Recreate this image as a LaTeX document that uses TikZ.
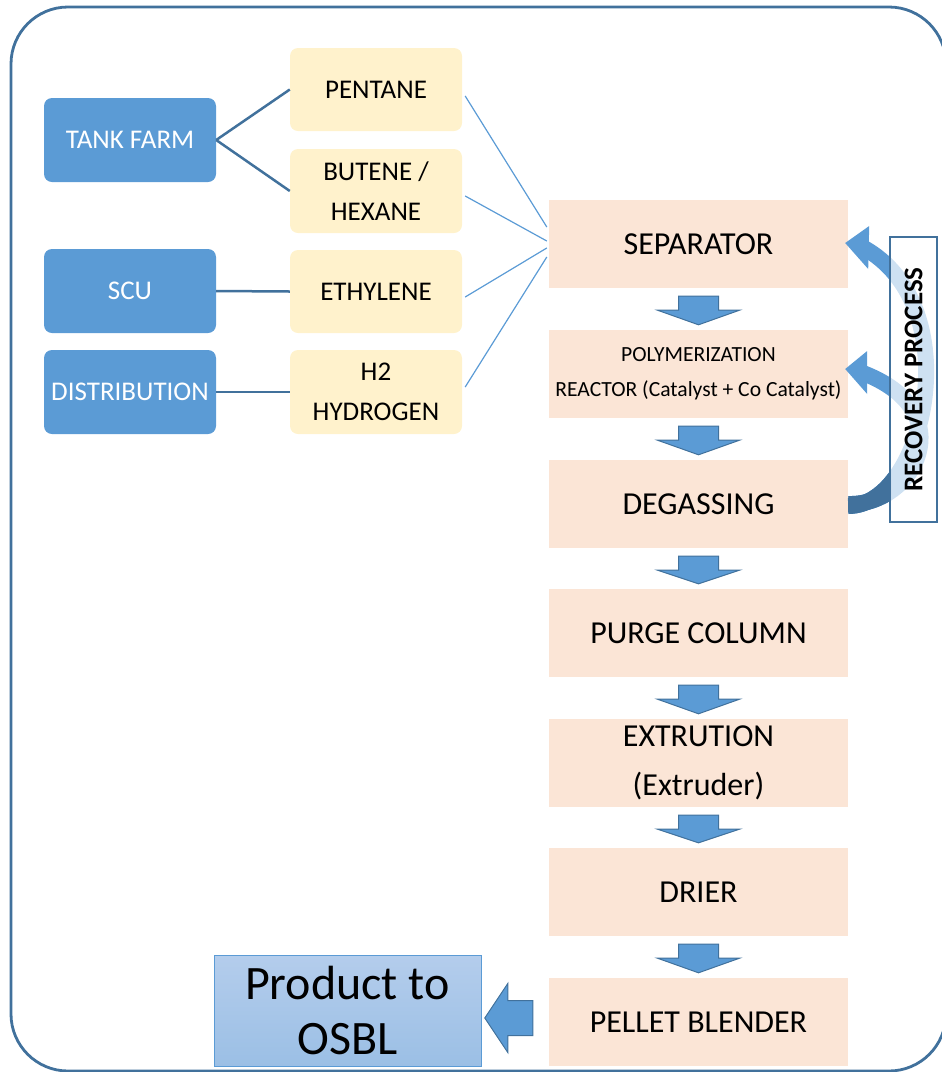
\documentclass[tikz,border=0pt]{standalone}
\usepackage{fontspec}
\setmainfont{Carlito}
\usetikzlibrary{calc}

\definecolor{feedblue}{HTML}{5B9BD5}
\definecolor{edgeblue}{HTML}{41719C}
\definecolor{feedyellow}{HTML}{FFF2CC}
\definecolor{stagepeach}{HTML}{FBE5D6}
\definecolor{prodtop}{HTML}{B4CDEC}
\definecolor{prodbot}{HTML}{9BBFE5}

\tikzset{
  source/.style={fill=feedblue, rounded corners=8pt, minimum width=172pt,
    minimum height=84pt, inner sep=0pt, text=white,
    font=\fontsize{27}{40}\selectfont, align=center},
  feed/.style={fill=feedyellow, rounded corners=8pt, minimum width=172pt,
    minimum height=84pt, inner sep=0pt, font=\fontsize{27}{40}\selectfont,
    align=center},
  stage/.style={fill=stagepeach, minimum width=299pt, minimum height=88pt,
    inner sep=0pt, font=\fontsize{32}{49}\selectfont, align=center},
  supply/.style={draw=edgeblue, line width=2.5pt},
  feedline/.style={draw=feedblue, line width=1.2pt},
  blockarrow/.style={fill=feedblue, draw=edgeblue, line width=1pt, line join=miter},
  loopband/.style={draw=feedblue, line width=16pt},
  loopdark/.style={draw=edgeblue, line width=16pt},
  loophead/.style={fill=feedblue},
}

% downward block arrow between two stacked stages
\newcommand\stagearrow[2]{%
  \draw[blockarrow] ($(#1.south)+(-20,8)$) -- ($(#1.south)+(20,8)$)
    -- ($(#1.south)+(20,22)$) -- ($(#1.south)+(41,22)$)
    -- ($(#2.north)+(0,-5)$) -- ($(#1.south)+(-41,22)$)
    -- ($(#1.south)+(-20,22)$) -- cycle;}

\begin{document}
\begin{tikzpicture}[x=1pt,y=-1pt]
\useasboundingbox (0,0) rectangle (942,1072);

% outer frame
\begin{scope}
  \clip (0,0) rectangle (942,1072);
  \draw[edgeblue, line width=2.8pt, rounded corners=57pt] (11,7) rectangle (946,1071);
\end{scope}

% sources
\node[source] (tank) at (130,140) {TANK FARM};
\node[source] (scu)  at (130,291) {SCU};
\node[source] (dist) at (130,392) {DISTRIBUTION};

% feeds
\node[feed, minimum height=83pt] (pent) at (376,89.5) {PENTANE};
\node[feed] (but)  at (376,191)   {BUTENE /\\HEXANE};
\node[feed, minimum height=83pt] (eth)  at (376,291.5) {ETHYLENE};
\node[feed] (hyd)  at (376,392)   {H2\\HYDROGEN};

% process stages
\node[stage] (sep)   at (698.5,244)  {SEPARATOR};
\node[stage, font=\fontsize{21.6}{35}\selectfont] (poly) at (698.5,374)
  {POLYMERIZATION\\REACTOR (Catalyst + Co Catalyst)};
\node[stage] (deg)   at (698.5,504)  {DEGASSING};
\node[stage] (purge) at (698.5,633)  {PURGE COLUMN};
\node[stage] (extr)  at (698.5,763)  {EXTRUTION\\(Extruder)};
\node[stage] (drier) at (698.5,892)  {DRIER};
\node[stage] (pel)   at (698.5,1022) {PELLET BLENDER};

% product
\node[top color=prodtop, bottom color=prodbot, draw=feedblue, line width=1pt,
  minimum width=267pt, minimum height=111pt, inner sep=0pt, align=center,
  font=\fontsize{48}{55}\selectfont] (prod) at (347.5,1010.5) {Product to\\OSBL};

% source to feed connectors
\draw[supply] (tank.east) -- (pent.west);
\draw[supply] (tank.east) -- (but.west);
\draw[supply] (scu.east) -- (eth.west);
\draw[supply] (dist.east) -- (hyd.west);

% feed to separator connectors
\draw[feedline] ($(pent.east)+(3,6.5)$) -- ($(sep.west)+(-2,-17)$);
\draw[feedline] ($(but.east)+(3,5)$)    -- ($(sep.west)+(-2,-3)$);
\draw[feedline] ($(eth.east)+(3,5.5)$)  -- ($(sep.west)+(-2,4)$);
\draw[feedline] ($(hyd.east)+(3,-5)$)   -- ($(sep.west)+(-2,13)$);

% stage to stage arrows
\stagearrow{sep}{poly}
\stagearrow{poly}{deg}
\stagearrow{deg}{purge}
\stagearrow{purge}{extr}
\stagearrow{extr}{drier}
\stagearrow{drier}{pel}

% blender to product arrow
\draw[blockarrow] ($(pel.west)+(-16,-21.5)$) -- ($(pel.west)+(-16,13.5)$)
  -- ($(pel.west)+(-41,13.5)$) -- ($(pel.west)+(-41,30.5)$)
  -- ($(pel.west)+(-64,-4)$) -- ($(pel.west)+(-41,-38.5)$)
  -- ($(pel.west)+(-41,-21.5)$) -- cycle;

% recovery loops from degassing back to separator and reactor
\coordinate (loopA) at ($(deg.east)+(0,2)$);
\coordinate (loopB) at ($(deg.east)+(0,0)$);
\coordinate (endA) at ($(sep.east)+(14,3)$);
\coordinate (endB) at ($(poly.east)+(12,-2)$);
\draw[loopband] (loopA) .. controls (925,506) and (970,305) .. (endA);
\draw[loopband] (loopB) .. controls (915,506) and (965,410) .. (endB);
\begin{scope}
  \clip ($(deg.east)+(0,-64)$) rectangle (891,530);
  \draw[loopdark] (loopA) .. controls (925,506) and (970,305) .. (endA);
  \draw[loopdark] (loopB) .. controls (915,506) and (965,410) .. (endB);
\end{scope}
\fill[loophead] ($(sep.east)+(-3,-1)$) -- ($(sep.east)+(21,-18)$)
  -- ($(sep.east)+(20,25)$) -- cycle;
\fill[loophead] ($(poly.east)+(-3,-5)$) -- ($(poly.east)+(19,-23)$)
  -- ($(poly.east)+(19,20)$) -- cycle;

% recovery label box
\node[rotate=90, draw=edgeblue, line width=2pt, fill=white, fill opacity=0.7,
  text opacity=1, minimum width=285pt, minimum height=47pt, inner sep=0pt,
  font=\bfseries\fontsize{27}{30}\selectfont] (rec) at (913.5,379.5)
  {RECOVERY PROCESS};

\end{tikzpicture}
\end{document}
